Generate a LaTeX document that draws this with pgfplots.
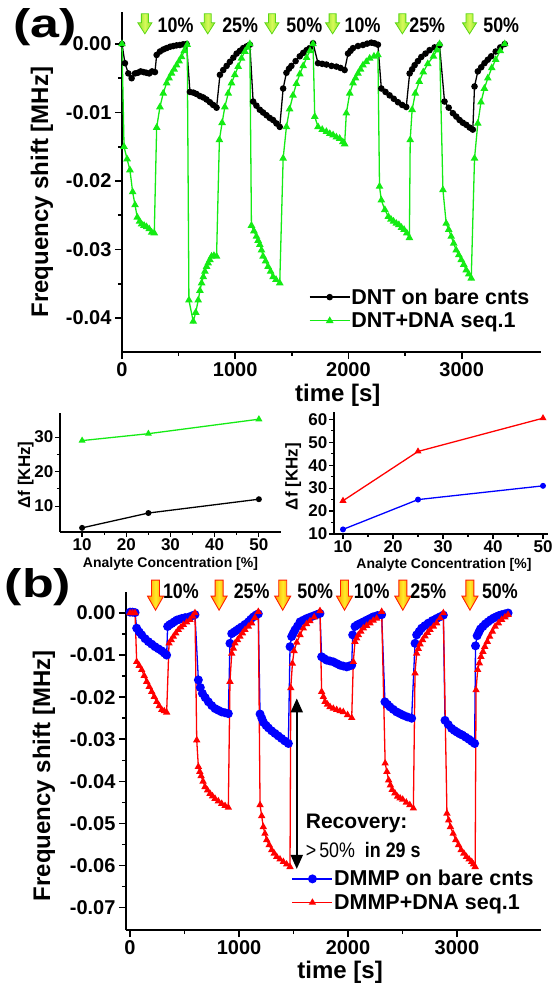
\documentclass[border=0pt]{standalone}
\usepackage{fontspec}
\setmainfont{Liberation Sans}
\usepackage{pgfplots}
\pgfplotsset{compat=1.18}
\usetikzlibrary{arrows.meta}
\definecolor{cgreen}{RGB}{20,235,20}
\definecolor{cblue}{RGB}{0,0,255}
\definecolor{cred}{RGB}{255,0,0}
\definecolor{agL}{RGB}{140,225,40}
\definecolor{agM}{RGB}{215,250,90}
\definecolor{agD}{RGB}{90,215,20}
\definecolor{aoL}{RGB}{255,150,0}
\definecolor{aoM}{RGB}{255,235,40}
\definecolor{aoD}{RGB}{255,30,0}
\pgfplotsset{
  orgstyle/.style={
    scale only axis, anchor=south west,
    axis lines=left,
    axis line style={-, line width=2pt},
    tick align=outside,
    major tick length=7pt, minor tick length=4pt,
    every tick/.style={line width=1.6pt, black},
    tick label style={font=\bfseries\fontsize{20}{20}\selectfont},
    label style={font=\bfseries\fontsize{24}{24}\selectfont},
    /pgf/number format/assume math mode=true,
    /pgf/number format/1000 sep={},
    scaled x ticks=false, scaled y ticks=false,
    clip=false,
  },
  smallax/.style={
    orgstyle,
    axis line style={-, line width=1.5pt},
    major tick length=5pt, minor tick length=3pt,
    every tick/.style={line width=1.2pt, black},
    tick label style={font=\bfseries\fontsize{17}{17}\selectfont},
    xticklabel style={inner sep=1pt},
    yticklabel style={inner sep=1.5pt},
    xlabel style={font=\bfseries\fontsize{14}{14}\selectfont, inner sep=0pt},
    ylabel style={font=\bfseries\fontsize{17}{17}\selectfont, inner sep=0pt},
    minor x tick num=1, minor y tick num=1,
  },
  legend image code/.code={\draw[mark repeat=2,mark phase=2,#1] plot coordinates {(0pt,0pt) (20pt,0pt) (40pt,0pt)};},
}
\newcommand{\garrow}[1]{\shadedraw[draw=agD, line width=0.8pt, left color=agL, right color=agL, middle color=agM] (axis cs:#1,0.0044) ++(-3.5pt,0pt) -- ++(0pt,-9pt) -- ++(-3.5pt,0pt) -- ++(7pt,-11pt) -- ++(7pt,11pt) -- ++(-3.5pt,0pt) -- ++(0pt,9pt) -- cycle;}
\newcommand{\oarrow}[1]{\shadedraw[draw=aoD, line width=0.9pt, left color=aoL, right color=aoL, middle color=aoM] (axis cs:#1,0.0078) ++(-4pt,0pt) -- ++(0pt,-16pt) -- ++(-4pt,0pt) -- ++(8pt,-14pt) -- ++(8pt,14pt) -- ++(-4pt,0pt) -- ++(0pt,16pt) -- cycle;}
\newcommand{\pct}[1]{\scalebox{0.85}[1]{#1}}
\begin{document}
\begin{tikzpicture}
\useasboundingbox (0pt,0pt) rectangle (554pt,986pt);
% ---------------- panel (a)
\begin{axis}[orgstyle, at={(122pt,634pt)}, width=419pt, height=340pt,
  xmin=0, xmax=3700, ymin=-0.04496, ymax=0.00467,
  xtick={0,1000,2000,3000}, minor x tick num=1,
  ytick={-0.04,-0.03,-0.02,-0.01,0}, minor y tick num=1,
  yticklabel style={/pgf/number format/fixed, /pgf/number format/fixed zerofill, /pgf/number format/precision=2},
  xlabel={time [s]}, ylabel={Frequency shift [MHz]},
  xlabel style={at={(axis description cs:0.515,-0.126)}, anchor=center},
  ylabel style={at={(axis description cs:-0.191,0.47)}, anchor=center},
  legend style={draw=none, fill=none, at={(axis description cs:0.446,0.19)}, anchor=north west,
    font=\bfseries\fontsize{21.5}{22}\selectfont, inner sep=0pt, row sep=5pt, nodes={inner sep=1pt}},
  legend cell align=left,
]
\addplot[black, line width=1.3pt, mark=*, mark size=2.6pt] coordinates {
(0,0) (26,-0.0028) (56,-0.0043) (85,-0.0050) (115,-0.0043) (140,-0.0042) (165,-0.0040) (190,-0.0041) (215,-0.0042) (240,-0.0043) (265,-0.0040) (291,-0.0041)
(306,-0.0016) (335,-0.0011) (365,-0.0008) (394,-0.0006) (425,-0.0004) (453,-0.0003) (482,-0.0002) (511,-0.00015) (540,-0.00005) (570,0)
(600,-0.0070) (630,-0.0071) (658,-0.0073) (688,-0.0076) (717,-0.0078) (746,-0.0081) (776,-0.0085) (805,-0.0089) (835,-0.0093)
(865,-0.0045) (894,-0.0038) (924,-0.0032) (953,-0.0026) (983,-0.0020) (1012,-0.0014) (1041,-0.0010) (1070,-0.0006) (1100,-0.00035) (1129,-0.0001)
(1158,-0.0084) (1187,-0.0090) (1217,-0.0096) (1246,-0.0100) (1276,-0.0104) (1305,-0.0108) (1334,-0.0111) (1364,-0.0116) (1393,-0.0121)
(1423,-0.0065) (1452,-0.0042) (1475,-0.0036) (1496,-0.0032) (1533,-0.0025) (1570,-0.0018) (1600,-0.0013) (1630,-0.0009) (1658,-0.0006) (1687,0.0001)
(1731,-0.0028) (1768,-0.0029) (1805,-0.0030) (1850,-0.0032) (1893,-0.0033) (1930,-0.0035) (1966,-0.0038)
(1996,-0.0014) (2018,-0.0010) (2040,-0.0006) (2084,-0.0003) (2128,-0.00015) (2165,0.00005) (2202,0.0002) (2230,0.0001) (2260,-0.0001)
(2290,-0.0065) (2327,-0.0070) (2363,-0.0075) (2400,-0.0080) (2437,-0.0085) (2474,-0.0089) (2510,-0.0092)
(2540,-0.0043) (2562,-0.0037) (2584,-0.0031) (2613,-0.0025) (2643,-0.0019) (2680,-0.0014) (2716,-0.0009) (2760,-0.0005) (2804,-0.00015)
(2848,-0.0084) (2885,-0.0093) (2922,-0.0101) (2952,-0.0106) (2981,-0.0111) (3010,-0.0115) (3040,-0.0118) (3070,-0.0122) (3098,-0.0125)
(3113,-0.0062) (3142,-0.0040) (3172,-0.0034) (3201,-0.0028) (3230,-0.0023) (3260,-0.0018) (3300,-0.0011) (3340,-0.0005) (3380,0)
};
\addlegendentry{DNT on bare cnts}
\addplot[cgreen, line width=1.3pt, mark=triangle*, mark size=3.2pt] coordinates {
(0,0) (18,-0.0150) (45,-0.0168) (70,-0.0184) (94,-0.0216) (115,-0.0235) (135,-0.0253) (155,-0.0259) (173,-0.0263) (195,-0.0265) (217,-0.0267) (240,-0.0270) (262,-0.0275) (285,-0.0276)
(306,-0.0122) (335,-0.0092) (364,-0.0072) (394,-0.0057) (416,-0.0050) (438,-0.0043) (460,-0.0037) (482,-0.0031) (504,-0.0025) (526,-0.0019) (550,-0.0010) (576,-0.0001)
(591,-0.0374) (629,-0.0405) (651,-0.0392) (673,-0.0374) (688,-0.0360) (703,-0.0349) (718,-0.0340) (732,-0.0332) (747,-0.0325) (761,-0.0320) (776,-0.0315) (791,-0.0310) (812,-0.0309) (835,-0.0310)
(860,-0.0140) (884,-0.0115) (908,-0.0092) (938,-0.0072) (967,-0.0057) (996,-0.0045) (1026,-0.0033) (1055,-0.0021) (1085,-0.0011) (1110,-0.0005) (1129,0)
(1143,-0.0265) (1165,-0.0273) (1187,-0.0281) (1202,-0.0287) (1217,-0.0293) (1232,-0.0301) (1246,-0.0310) (1268,-0.0317) (1290,-0.0325) (1312,-0.0332) (1334,-0.0340) (1360,-0.0344) (1393,-0.0349)
(1423,-0.0167) (1452,-0.0121) (1480,-0.0095) (1510,-0.0075) (1540,-0.0058) (1570,-0.0044) (1600,-0.0032) (1630,-0.0020) (1660,-0.0010) (1687,0)
(1702,-0.0106) (1731,-0.0121) (1768,-0.0125) (1805,-0.0128) (1835,-0.0131) (1864,-0.0133) (1893,-0.0136) (1922,-0.0138) (1950,-0.0143) (1966,-0.0146)
(1981,-0.0101) (2011,-0.0072) (2040,-0.0057) (2062,-0.0050) (2084,-0.0043) (2106,-0.0037) (2128,-0.0031) (2157,-0.0026) (2187,-0.0021) (2225,-0.0018) (2260,-0.0016)
(2274,-0.0208) (2290,-0.0228) (2321,-0.0242) (2352,-0.0252) (2375,-0.0256) (2398,-0.0259) (2422,-0.0262) (2445,-0.0264) (2468,-0.0268) (2491,-0.0271) (2515,-0.0276) (2538,-0.0283)
(2545,-0.0140) (2562,-0.0096) (2590,-0.0072) (2625,-0.0055) (2660,-0.0041) (2700,-0.0029) (2750,-0.0018) (2780,-0.0009) (2804,0)
(2834,-0.0213) (2863,-0.0262) (2885,-0.0271) (2907,-0.0281) (2929,-0.0291) (2951,-0.0301) (2974,-0.0308) (2996,-0.0315) (3018,-0.0322) (3040,-0.0330) (3062,-0.0336) (3084,-0.0342)
(3113,-0.0167) (3142,-0.0116) (3170,-0.0085) (3200,-0.0065) (3230,-0.0050) (3265,-0.0035) (3300,-0.0023) (3340,-0.0010) (3380,0)
};
\addlegendentry{DNT+DNA seq.1}
\garrow{202}\garrow{757}\garrow{1324}\garrow{1860}\garrow{2476}\garrow{3069}
\node[font=\bfseries\fontsize{21}{21}\selectfont] at (axis cs:473,0.0028) {\pct{10\%}};
\node[font=\bfseries\fontsize{21}{21}\selectfont] at (axis cs:1043,0.0028) {\pct{25\%}};
\node[font=\bfseries\fontsize{21}{21}\selectfont] at (axis cs:1610,0.0028) {\pct{50\%}};
\node[font=\bfseries\fontsize{21}{21}\selectfont] at (axis cs:2124,0.0028) {\pct{10\%}};
\node[font=\bfseries\fontsize{21}{21}\selectfont] at (axis cs:2695,0.0028) {\pct{25\%}};
\node[font=\bfseries\fontsize{21}{21}\selectfont] at (axis cs:3349,0.0028) {\pct{50\%}};
\end{axis}
% ---------------- inset left
\begin{axis}[smallax, at={(60pt,454pt)}, width=221pt, height=119pt,
  xmin=5, xmax=55, ymin=2.5, ymax=37,
  xtick={10,20,30,40,50}, ytick={10,20,30},
  xlabel={Analyte Concentration [\%]}, ylabel={Δf [KHz]},
  xlabel style={at={(axis description cs:0.5,-0.27)}, anchor=center},
  ylabel style={at={(axis description cs:-0.155,0.48)}, anchor=center},
]
\addplot[cgreen, line width=1.3pt, mark=triangle*, mark size=2.8pt] coordinates {(10,29) (25,31) (50,35.2)};
\addplot[black, line width=1.3pt, mark=*, mark size=2.3pt] coordinates {(10,3.7) (25,8) (50,12)};
\end{axis}
% ---------------- inset right
\begin{axis}[smallax, at={(334pt,452pt)}, width=214pt, height=122pt,
  xmin=8.2, xmax=51, ymin=10, ymax=63.2,
  xtick={10,20,30,40,50}, ytick={10,20,30,40,50,60},
  xlabel={Analyte Concentration [\%]}, ylabel={Δf [KHz]},
  xlabel style={at={(axis description cs:0.514,-0.255)}, anchor=center},
  ylabel style={at={(axis description cs:-0.19,0.47)}, anchor=center},
]
\addplot[cred, line width=1.3pt, mark=triangle*, mark size=2.8pt] coordinates {(10,24.5) (25,46) (50,60.5)};
\addplot[cblue, line width=1.3pt, mark=*, mark size=2.3pt] coordinates {(10,12) (25,25) (50,31)};
\end{axis}
% ---------------- panel (b)
\begin{axis}[orgstyle, at={(126pt,56pt)}, width=415pt, height=338pt,
  xmin=-37, xmax=3771, ymin=-0.0753, ymax=0.00499,
  xtick={0,1000,2000,3000}, minor x tick num=1,
  ytick={-0.07,-0.06,-0.05,-0.04,-0.03,-0.02,-0.01,0}, minor y tick num=1,
  yticklabel style={/pgf/number format/fixed, /pgf/number format/fixed zerofill, /pgf/number format/precision=2},
  xlabel={time [s]}, ylabel={Frequency shift [MHz]},
  xlabel style={at={(axis description cs:0.516,-0.124)}, anchor=center},
  ylabel style={at={(axis description cs:-0.198,0.456)}, anchor=center},
  legend style={draw=none, fill=none, at={(axis description cs:0.399,0.18)}, anchor=north west,
    font=\bfseries\fontsize{21.5}{22}\selectfont, inner sep=0pt, row sep=5pt, nodes={inner sep=1pt}},
  legend cell align=left,
]
\addplot[cblue, line width=1.3pt, mark=*, mark size=3.8pt] coordinates {
(0,0.0002) (23,0.0002) (46,0.0001) (61,-0.0036) (84,-0.0045) (107,-0.0052) (138,-0.0061) (168,-0.0068) (199,-0.0074) (229,-0.0080) (260,-0.0085) (291,-0.0090) (314,-0.0095) (336,-0.0100)
(345,-0.0032) (363,-0.0028) (382,-0.0025) (405,-0.0021) (428,-0.0017) (451,-0.0015) (474,-0.0013) (505,-0.0011) (535,-0.0010) (566,-0.0007) (596,-0.0004)
(627,-0.0159) (645,-0.0177) (664,-0.0191) (690,-0.0201) (719,-0.0211) (750,-0.0220) (780,-0.0227) (810,-0.0231) (841,-0.0235) (872,-0.0237) (902,-0.0239)
(917,-0.0072) (933,-0.0049) (956,-0.0045) (979,-0.0041) (1001,-0.0037) (1024,-0.0033) (1055,-0.0027) (1086,-0.0021) (1108,-0.0015) (1131,-0.00095) (1155,-0.0005) (1177,-0.0002)
(1193,-0.0240) (1209,-0.0250) (1225,-0.0260) (1248,-0.0267) (1270,-0.0273) (1300,-0.0280) (1330,-0.0286) (1360,-0.0292) (1390,-0.0298) (1420,-0.0304) (1453,-0.0310)
(1468,-0.0080) (1483,-0.0056) (1498,-0.0048) (1514,-0.0040) (1537,-0.0031) (1560,-0.0021) (1590,-0.0017) (1621,-0.0013) (1651,-0.0010) (1682,-0.0007) (1712,-0.0004) (1743,-0.0001)
(1758,-0.0104) (1781,-0.0108) (1804,-0.0112) (1835,-0.0114) (1865,-0.0116) (1896,-0.0120) (1927,-0.0124) (1957,-0.0126) (1988,-0.0128) (2011,-0.0126) (2034,-0.0124)
(2043,-0.0052) (2064,-0.0032) (2087,-0.0028) (2110,-0.0025) (2141,-0.0021) (2171,-0.0017) (2202,-0.0013) (2232,-0.0009) (2270,-0.0006) (2309,-0.0004)
(2339,-0.0211) (2362,-0.0217) (2385,-0.0223) (2415,-0.0229) (2446,-0.0235) (2477,-0.0239) (2508,-0.0243) (2546,-0.0247) (2584,-0.0250)
(2615,-0.0072) (2630,-0.0052) (2653,-0.0044) (2676,-0.0036) (2706,-0.0030) (2737,-0.0024) (2775,-0.0018) (2813,-0.0013) (2844,-0.0009) (2875,-0.0005)
(2890,-0.0255) (2920,-0.0265) (2950,-0.0274) (2975,-0.0279) (3000,-0.0283) (3025,-0.0287) (3050,-0.0290) (3080,-0.0295) (3110,-0.0300) (3136,-0.0305) (3162,-0.0310)
(3170,-0.0078) (3185,-0.0054) (3200,-0.0046) (3215,-0.0038) (3238,-0.0032) (3260,-0.0026) (3285,-0.0021) (3310,-0.0016) (3335,-0.0012) (3360,-0.0009) (3385,-0.0006) (3410,-0.0004) (3440,-0.0002) (3469,0)
};
\addlegendentry{DMMP on bare cnts}
\addplot[cred, line width=1.3pt, mark=triangle*, mark size=3pt] coordinates {
(0,0) (23,0) (46,0) (61,-0.0116) (84,-0.0125) (107,-0.0135) (130,-0.0149) (153,-0.0163) (176,-0.0175) (199,-0.0187) (222,-0.0199) (245,-0.0211) (268,-0.0221) (291,-0.0230) (314,-0.0233) (336,-0.0236)
(358,-0.0072) (378,-0.0064) (398,-0.0056) (420,-0.0048) (443,-0.0040) (466,-0.0034) (489,-0.0028) (520,-0.0022) (550,-0.0016) (575,-0.0008) (596,0)
(612,-0.0302) (627,-0.0365) (640,-0.0377) (652,-0.0387) (670,-0.0400) (688,-0.0413) (711,-0.0421) (734,-0.0429) (757,-0.0435) (780,-0.0441) (810,-0.0447) (841,-0.0453) (872,-0.0458) (902,-0.0462)
(917,-0.0163) (933,-0.0096) (948,-0.0084) (963,-0.0072) (986,-0.0064) (1009,-0.0056) (1032,-0.0048) (1055,-0.0040) (1086,-0.0032) (1116,-0.0024) (1146,-0.0011) (1177,0.0003)
(1193,-0.0456) (1208,-0.0482) (1223,-0.0508) (1238,-0.0524) (1254,-0.0539) (1277,-0.0551) (1300,-0.0563) (1323,-0.0571) (1346,-0.0579) (1376,-0.0585) (1407,-0.0591) (1437,-0.0597) (1468,-0.0603)
(1475,-0.0178) (1490,-0.0120) (1505,-0.0090) (1530,-0.0070) (1560,-0.0052) (1590,-0.0036) (1620,-0.0026) (1651,-0.0019) (1690,-0.0010) (1743,0.0005)
(1758,-0.0187) (1774,-0.0199) (1789,-0.0211) (1812,-0.0217) (1835,-0.0223) (1865,-0.0227) (1896,-0.0230) (1927,-0.0233) (1957,-0.0235) (1996,-0.0242) (2034,-0.0249)
(2049,-0.0116) (2064,-0.0068) (2080,-0.0060) (2095,-0.0052) (2118,-0.0044) (2141,-0.0036) (2171,-0.0030) (2202,-0.0024) (2232,-0.0018) (2263,-0.0013) (2309,0.0003)
(2341,-0.0357) (2357,-0.0377) (2373,-0.0397) (2389,-0.0409) (2405,-0.0420) (2430,-0.0428) (2454,-0.0436) (2478,-0.0440) (2502,-0.0443) (2535,-0.0450) (2567,-0.0456) (2600,-0.0464)
(2615,-0.0143) (2630,-0.0096) (2645,-0.0085) (2661,-0.0074) (2684,-0.0064) (2707,-0.0055) (2730,-0.0047) (2753,-0.0040) (2784,-0.0032) (2814,-0.0024) (2845,-0.0012) (2875,0)
(2908,-0.0476) (2924,-0.0492) (2940,-0.0508) (2965,-0.0524) (2989,-0.0539) (3014,-0.0551) (3038,-0.0563) (3063,-0.0571) (3087,-0.0579) (3111,-0.0585) (3135,-0.0591) (3151,-0.0597) (3167,-0.0603)
(3175,-0.0183) (3190,-0.0135) (3205,-0.0119) (3220,-0.0104) (3238,-0.0092) (3255,-0.0080) (3278,-0.0068) (3300,-0.0056) (3325,-0.0044) (3350,-0.0032) (3380,-0.0024) (3410,-0.0016) (3440,-0.0010) (3469,-0.0004)
};
\addlegendentry{DMMP+DNA seq.1}
\oarrow{234}\oarrow{817}\oarrow{1401}\oarrow{1968}\oarrow{2503}\oarrow{3119}
\node[font=\bfseries\fontsize{21}{21}\selectfont] at (axis cs:467,0.0051) {\pct{10\%}};
\node[font=\bfseries\fontsize{21}{21}\selectfont] at (axis cs:1116,0.0051) {\pct{25\%}};
\node[font=\bfseries\fontsize{21}{21}\selectfont] at (axis cs:1699,0.0051) {\pct{50\%}};
\node[font=\bfseries\fontsize{21}{21}\selectfont] at (axis cs:2217,0.0051) {\pct{10\%}};
\node[font=\bfseries\fontsize{21}{21}\selectfont] at (axis cs:2737,0.0051) {\pct{25\%}};
\node[font=\bfseries\fontsize{21}{21}\selectfont] at (axis cs:3394,0.0051) {\pct{50\%}};
\draw[{Triangle[width=12pt,length=14pt]}-{Triangle[width=12pt,length=14pt]}, line width=2pt] (axis cs:1530,-0.0203) -- (axis cs:1530,-0.0608);
\node[anchor=west, font=\bfseries\fontsize{21}{21}\selectfont, inner sep=0pt] at (axis cs:1612,-0.0499) {Recovery:};
\node[anchor=west, font=\bfseries\fontsize{21}{21}\selectfont, inner sep=0pt] at (axis cs:1612,-0.0563) {\pct{{\mdseries >\,50\%}\ \ in 29 s}};
\end{axis}
\node[font=\bfseries\fontsize{40}{40}\selectfont] at (45pt,959pt) {\scalebox{1.3}[1]{(a)}};
\node[font=\bfseries\fontsize{40}{40}\selectfont] at (38pt,399pt) {\scalebox{1.3}[1]{(b)}};
\end{tikzpicture}
\end{document}
